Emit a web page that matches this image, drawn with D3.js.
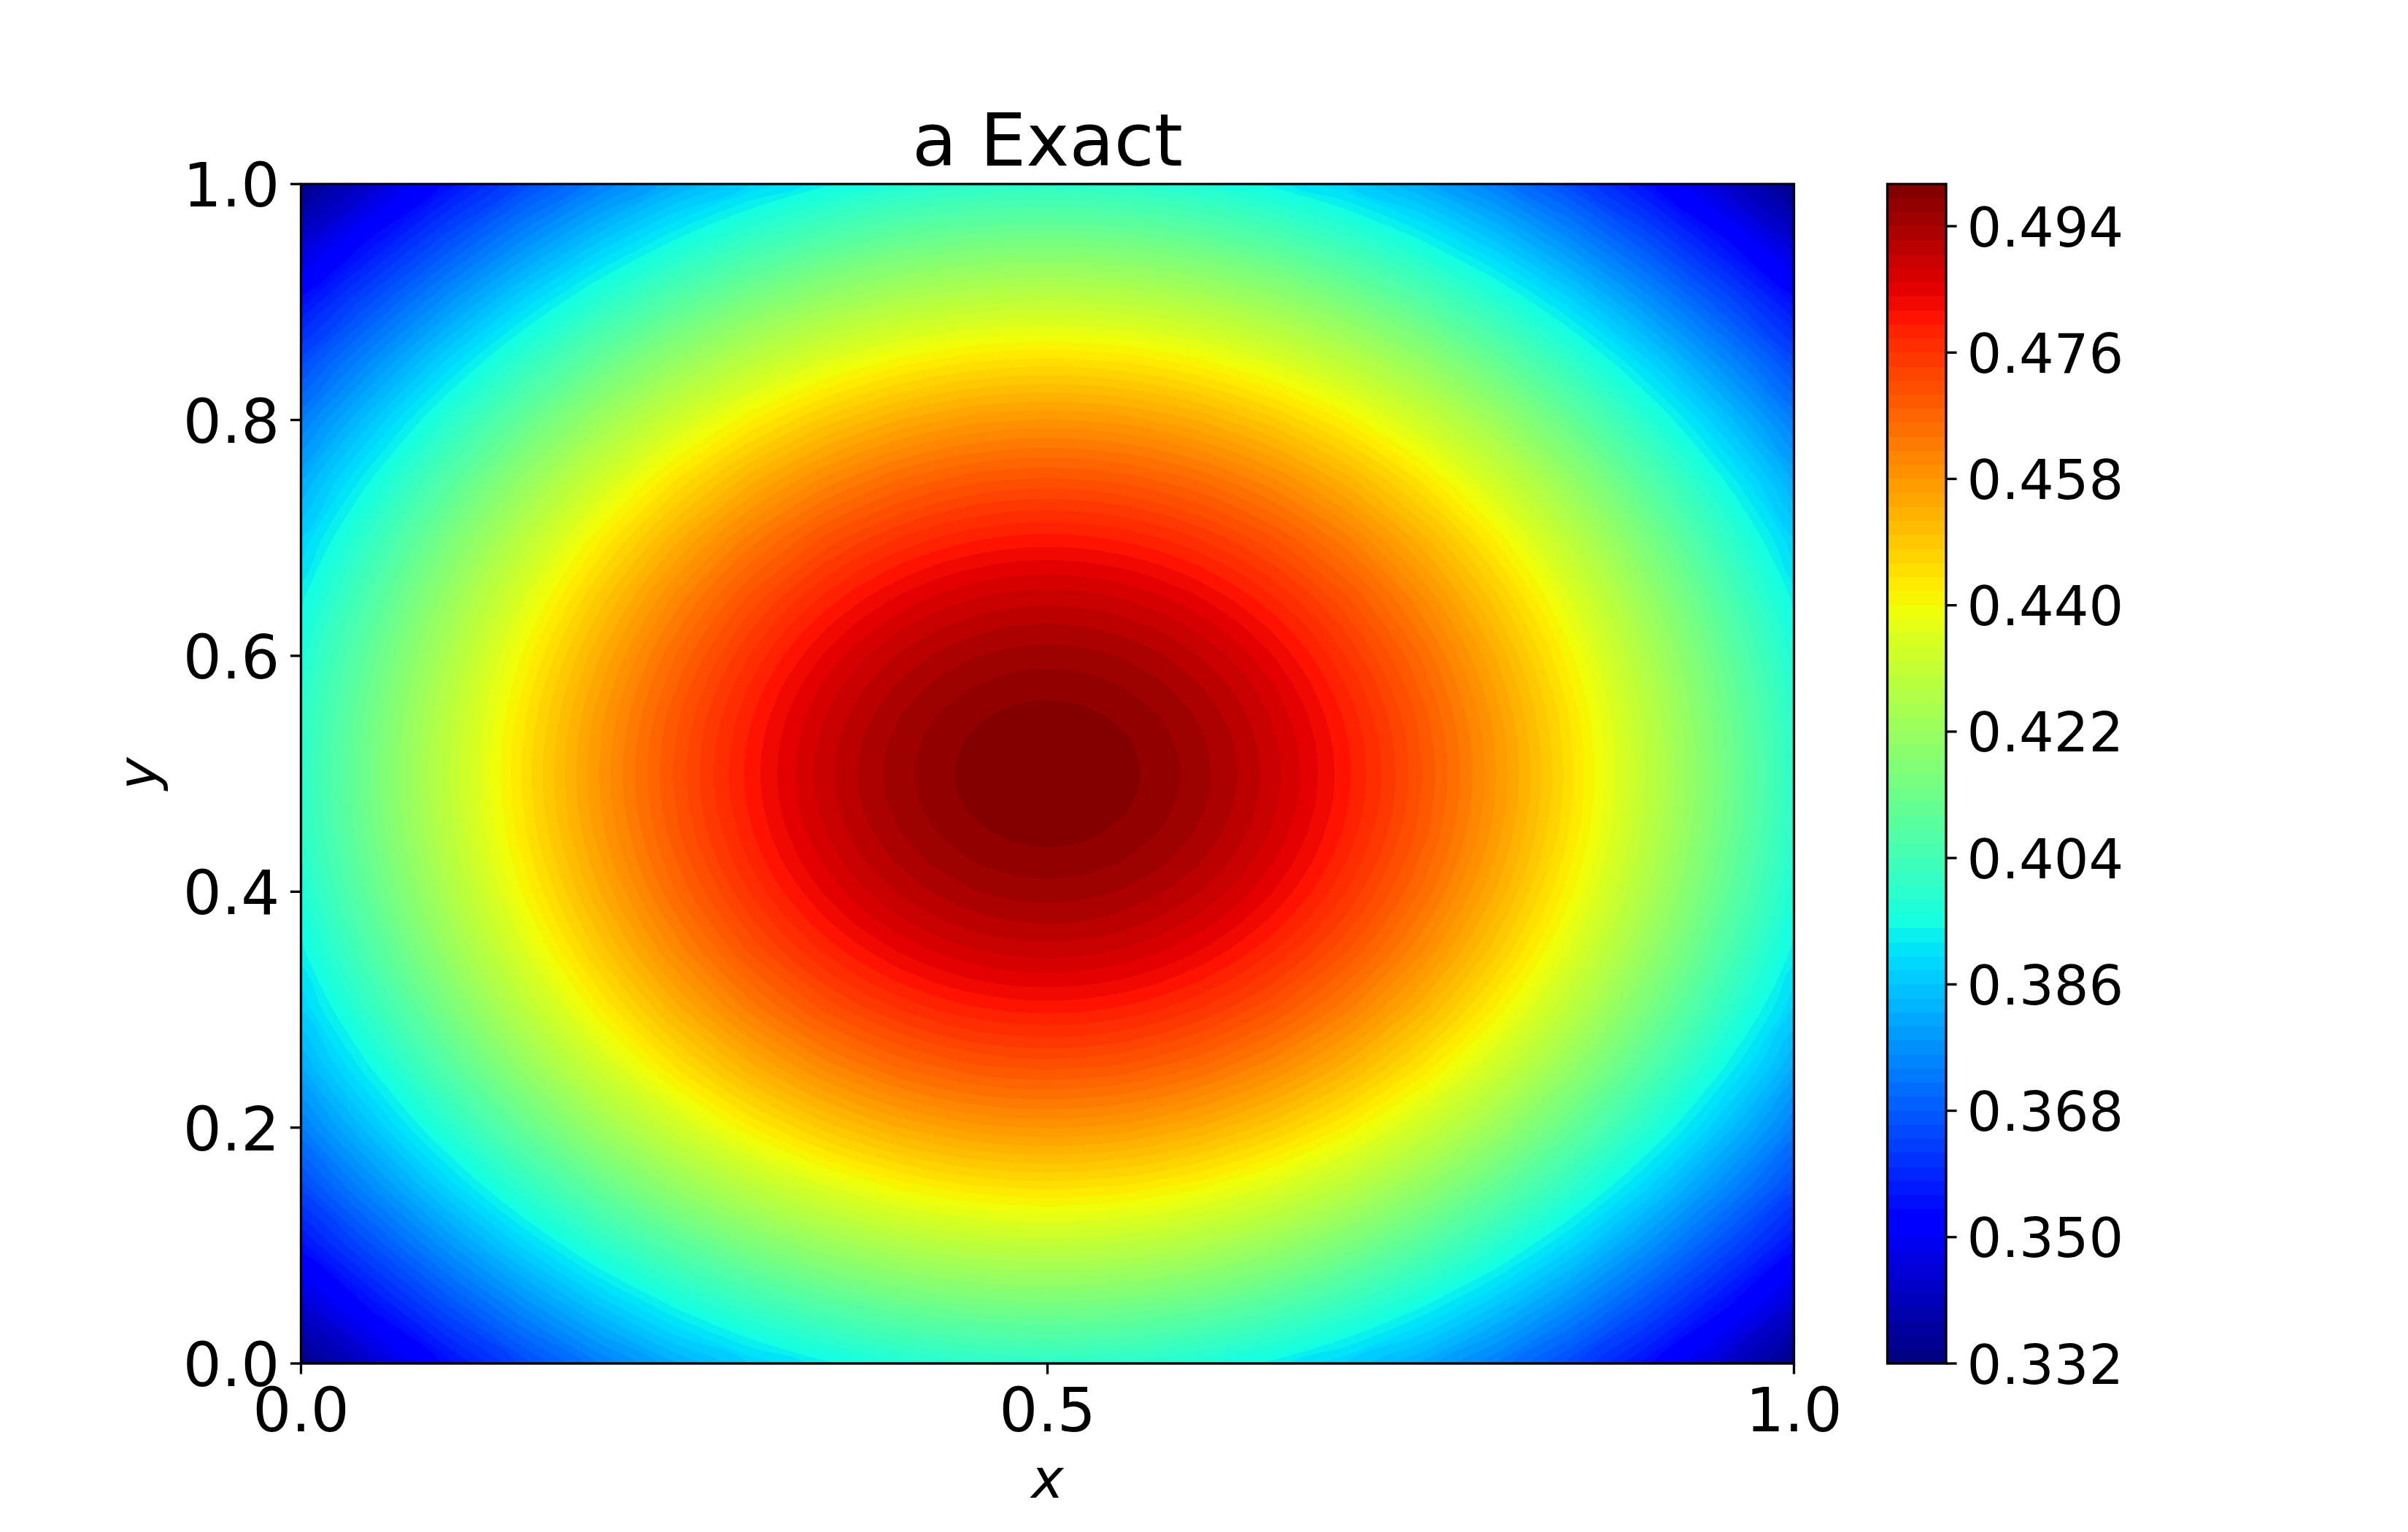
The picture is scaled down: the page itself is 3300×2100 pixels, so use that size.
<!DOCTYPE html>
<html>
<head>
<meta charset="utf-8">
<script src="https://cdn.jsdelivr.net/npm/d3@7"></script>
<style>
html,body{margin:0;padding:0;background:#fff;}
svg{display:block;}
text{font-family:"DejaVu Sans";fill:#000;}
</style>
</head>
<body>
<svg id="chart" width="3300" height="2100"></svg>
<script>
// Values: one quadrant of the field, index 0 = centre of the square,
// index 10 = edge (grid step 0.05 in x and y). The picture is mirror-symmetric about x=0.5 and y=0.5.
const quadrantField = [
 [.50000,.49875,.49504,.48895,.48064,.47031,.45824,.44475,.43024,.41515,.40000],
 [.49875,.49750,.49381,.48774,.47947,.46918,.45717,.44374,.42930,.41429,.39924],
 [.49504,.49381,.49016,.48417,.47599,.46584,.45398,.44074,.42652,.41175,.39697],
 [.48895,.48774,.48417,.47829,.47029,.46035,.44875,.43582,.42195,.40757,.39322],
 [.48064,.47947,.47599,.47029,.46252,.45288,.44164,.42912,.41571,.40185,.38805],
 [.47031,.46918,.46584,.46035,.45288,.44361,.43282,.42080,.40796,.39470,.38154],
 [.45824,.45717,.45398,.44875,.44164,.43282,.42254,.41111,.39889,.38630,.37380],
 [.44475,.44374,.44074,.43582,.42912,.42080,.41111,.40031,.38877,.37683,.36494],
 [.43024,.42930,.42652,.42195,.41571,.40796,.39889,.38877,.37787,.36652,.35514],
 [.41515,.41429,.41175,.40757,.40185,.39470,.38630,.37683,.36652,.35565,.34454],
 [.40000,.39924,.39697,.39322,.38805,.38154,.37380,.36494,.35514,.34454,.33336]
];
// Finer reading of the central peak: same layout, grid step 0.025, reaching 0.25 from the centre.
const centreField = [
 [.50000,.49969,.49875,.49720,.49504,.49229,.48895,.48506,.48064,.47571,.47031],
 [.49969,.49938,.49844,.49689,.49474,.49199,.48865,.48477,.48035,.47543,.47003],
 [.49875,.49844,.49751,.49596,.49381,.49107,.48774,.48387,.47947,.47456,.46918],
 [.49720,.49689,.49596,.49443,.49228,.48956,.48625,.48239,.47802,.47313,.46778],
 [.49504,.49474,.49381,.49228,.49016,.48745,.48417,.48034,.47599,.47114,.46584],
 [.49229,.49199,.49107,.48956,.48745,.48477,.48151,.47772,.47342,.46862,.46336],
 [.48895,.48865,.48774,.48625,.48417,.48151,.47829,.47455,.47029,.46554,.46035],
 [.48506,.48477,.48387,.48239,.48034,.47772,.47455,.47085,.46665,.46197,.45685],
 [.48064,.48035,.47947,.47802,.47599,.47342,.47029,.46665,.46252,.45791,.45288],
 [.47571,.47543,.47456,.47313,.47114,.46862,.46554,.46197,.45791,.45339,.44845],
 [.47031,.47003,.46918,.46778,.46584,.46336,.46035,.45685,.45288,.44845,.44361]
];
const xTicks = [0, 0.5, 1];
const yTicks = [0, 0.2, 0.4, 0.6, 0.8, 1];
const colorTicks = [0.332, 0.350, 0.368, 0.386, 0.404, 0.422, 0.440, 0.458, 0.476, 0.494];
const levelMin = 0.332, levelMax = 0.500, levelStep = 0.002, levelCount = 84;
const centreSplitLevel = 0.4735, centreReach = 0.25;
const titleText = "a Exact", xLabel = "x", yLabel = "y";

// matplotlib "jet" colormap segments
const jetR = [[0,0],[.35,0],[.66,1],[.89,1],[1,.5]];
const jetG = [[0,0],[.125,0],[.375,1],[.64,1],[.91,0],[1,0]];
const jetB = [[0,.5],[.11,1],[.34,1],[.65,0],[1,0]];

const seg = s => d3.scaleLinear().domain(s.map(d => d[0])).range(s.map(d => d[1]));
const rS = seg(jetR), gS = seg(jetG), bS = seg(jetB);
const norm = d3.scaleLinear().domain([levelMin, levelMax]);
function jet(v) {
  const idx = Math.min(255, Math.floor(norm(v) * 256)), t = idx / 255;
  return d3.rgb(Math.round(rS(t)*255), Math.round(gS(t)*255), Math.round(bS(t)*255)).formatRgb();
}

const levels = d3.range(levelCount).map(i => levelMin + i * levelStep);

// Mirror a quadrant into a full square grid
const n = 21;
function mirror(q) {
  const out = [];
  for (let j = 0; j < n; j++) for (let i = 0; i < n; i++)
    out.push(q[Math.abs(j - 10)][Math.abs(i - 10)]);
  return out;
}

const ax = {l: 412.5, r: 2458.5, t: 252.3, b: 1869};
const cb = {l: 2586.5, r: 2667};
const x = d3.scaleLinear().domain([0, 1]).range([ax.l, ax.r]);
const y = d3.scaleLinear().domain([0, 1]).range([ax.b, ax.t]);
const cy = d3.scaleLinear().domain([levelMin, levelMax]).range([ax.b, ax.t]);

const svg = d3.select("#chart");
svg.append("rect").attr("width", 3300).attr("height", 2100).attr("fill", "#fff");
svg.append("clipPath").attr("id", "plotClip").append("rect")
  .attr("x", ax.l).attr("y", ax.t).attr("width", ax.r - ax.l).attr("height", ax.b - ax.t);

// Filled contours: outer levels from the whole field, inner levels from the finer centre reading
const plot = svg.append("g").attr("clip-path", "url(#plotClip)");
plot.append("rect").attr("x", ax.l).attr("y", ax.t).attr("width", ax.r - ax.l).attr("height", ax.b - ax.t)
  .attr("fill", jet(levelMin + levelStep / 2));

function drawBands(field, thresholds, lo, hi) {
  const contours = d3.contours().size([n, n]).smooth(true).thresholds(thresholds)(mirror(field));
  const pos = d3.scaleLinear().domain([0.5, n - 0.5]).range([lo, hi]);
  const ringLine = d3.line()
    .x(p => x(pos(p[0])))
    .y(p => y(pos(p[1])))
    .curve(d3.curveCatmullRomClosed.alpha(0.5));
  const ringPath = c => c.coordinates.map(poly => poly.map(r => ringLine(r.slice(0, -1))).join("")).join("");
  plot.append("g").selectAll("path").data(contours.filter(c => c.coordinates.length)).join("path")
    .attr("d", ringPath)
    .attr("fill-rule", "evenodd")
    .attr("fill", c => jet(c.value + levelStep / 2));
}
drawBands(quadrantField, levels.filter(l => l < centreSplitLevel), 0, 1);
drawBands(centreField, levels.filter(l => l >= centreSplitLevel), 0.5 - centreReach, 0.5 + centreReach);

// Colour bar bands
svg.append("g").selectAll("rect").data(levels).join("rect")
  .attr("x", cb.l).attr("width", cb.r - cb.l)
  .attr("y", d => cy(d + levelStep)).attr("height", d => cy(d) - cy(d + levelStep))
  .attr("fill", d => jet(d + levelStep / 2))
  .attr("shape-rendering", "crispEdges");

// Frames
const lw = 3.33;
[[ax.l, ax.r], [cb.l, cb.r]].forEach(([a, b]) => {
  svg.append("rect").attr("x", a).attr("y", ax.t).attr("width", b - a).attr("height", ax.b - ax.t)
    .attr("fill", "none").attr("stroke", "#000").attr("stroke-width", lw);
});

function styleAxis(g, size) {
  g.select(".domain").remove();
  g.selectAll("line").attr("stroke", "#000").attr("stroke-width", lw);
  g.selectAll("text").attr("font-family", "DejaVu Sans").attr("font-size", size).attr("fill", "#000");
}

// X axis
const xAxis = svg.append("g").attr("transform", `translate(0,${ax.b})`)
  .call(d3.axisBottom(x).tickValues(xTicks).tickSize(14.6).tickPadding(14.6).offset(0).tickFormat(d3.format(".1f")));
styleAxis(xAxis, 83.33);
xAxis.selectAll("text").attr("dy", null).attr("y", 1962 - ax.b);

// Y axis
const yAxis = svg.append("g").attr("transform", `translate(${ax.l},0)`)
  .call(d3.axisLeft(y).tickValues(yTicks).tickSize(14.6).tickPadding(14.6).offset(0).tickFormat(d3.format(".1f")));
styleAxis(yAxis, 83.33);
yAxis.selectAll("text").attr("dy", 31);

// Colour bar axis
const cAxis = svg.append("g").attr("transform", `translate(${cb.r},0)`)
  .call(d3.axisRight(cy).tickValues(colorTicks).tickSize(14.6).tickPadding(14.6).offset(0).tickFormat(d3.format(".3f")));
styleAxis(cAxis, 75);
cAxis.selectAll("text").attr("dy", 27.5).attr("x", 2695.5 - cb.r);

// Title and labels
svg.append("text").attr("x", (ax.l + ax.r) / 2).attr("y", 227).attr("text-anchor", "middle")
  .attr("font-size", 100).text(titleText);
svg.append("text").attr("x", (ax.l + ax.r) / 2).attr("y", 2052.5).attr("text-anchor", "middle")
  .attr("font-size", 75).attr("font-style", "italic").text(xLabel);
svg.append("text").attr("transform", `translate(215,${(ax.t + ax.b) / 2}) rotate(-90)`).attr("text-anchor", "middle")
  .attr("font-size", 75).attr("font-style", "italic").text(yLabel);
</script>
</body>
</html>
